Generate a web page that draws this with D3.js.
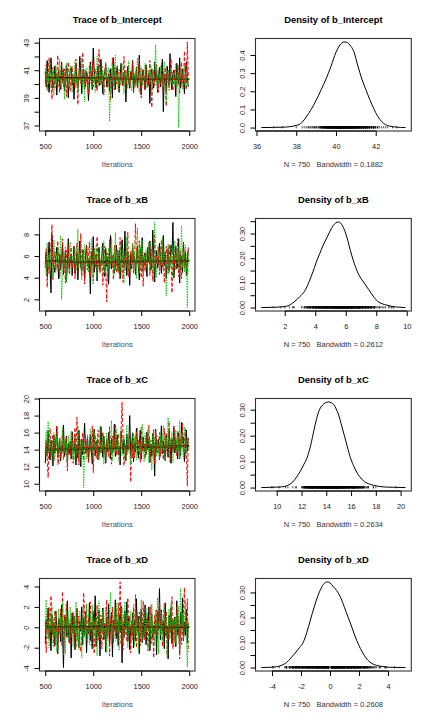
<!DOCTYPE html>
<html><head><meta charset="utf-8">
<script src="https://cdn.jsdelivr.net/npm/d3@7"></script>
<style>body{margin:0;background:#fff}svg{display:block}</style>
</head><body>
<script>
// ---------------- DATA ----------------
const iterStart = 500, iterEnd = 2000, thin = 10;
const paramNames = ["b_Intercept", "b_xB", "b_xC", "b_xD"];
const nObs = 750;
const bandwidths = ["0.1882", "0.2612", "0.2634", "0.2608"];

const intercept_chain1 = [40.9,39.8,41.7,40.3,39.4,40.8,41.9,40.5,39.7,40.1,41.3,40.6,39.2,40.4,41.0,
40.0,39.6,41.6,40.2,41.1,39.5,40.3,41.4,40.7,39.0,40.5,40.9,41.2,39.9,40.4,
38.9,40.7,41.5,40.1,39.7,40.3,42.0,40.8,39.3,40.6,41.1,40.2,39.8,40.9,40.4,
38.8,40.0,41.6,40.5,39.6,42.6,41.0,40.3,39.7,40.7,41.3,39.9,40.1,41.8,40.4,
39.3,40.6,40.9,41.4,39.8,40.2,40.7,39.5,41.1,40.3,39.0,41.9,40.5,39.6,40.8,
41.2,40.0,39.4,40.6,41.5,40.1,39.9,40.8,41.0,38.7,40.4,41.3,40.2,39.7,40.9,
40.3,41.7,39.5,40.5,40.0,41.2,39.8,40.6,42.1,40.1,39.2,40.7,41.0,40.4,39.6,
41.4,40.2,39.9,40.8,38.6,40.5,41.1,40.0,39.7,41.6,40.3,40.9,39.4,40.6,41.2,
39.8,40.4,41.8,38.0,40.7,40.1,39.5,41.3,40.5,39.9,42.2,40.2,39.6,40.8,41.0,
40.3,39.1,41.5,40.6,40.0,41.9,39.7,40.4,41.1,40.2,39.3,40.9,41.6,40.5,39.8];
const intercept_chain2 = [40.1,41.4,39.6,40.7,41.9,39.9,40.4,38.9,41.2,40.5,39.7,41.0,40.3,42.1,40.0,
39.4,40.8,41.5,40.2,39.8,41.1,40.6,39.1,40.9,41.6,40.3,39.5,40.7,41.3,40.0,
40.5,39.7,41.8,40.4,38.5,40.9,41.2,40.1,39.9,42.3,40.6,39.6,41.0,40.2,40.8,
39.3,41.4,40.5,40.0,41.7,39.8,40.3,41.1,40.7,39.5,40.9,42.5,40.2,39.9,41.3,
40.6,39.2,40.4,41.5,40.1,39.7,40.8,41.0,38.8,40.3,41.9,40.5,39.6,41.2,40.0,
41.4,40.7,39.4,40.2,41.1,40.6,39.9,42.0,40.3,39.5,40.8,41.3,40.1,39.8,40.9,
40.4,41.6,39.3,40.7,40.0,41.2,39.7,40.5,41.8,40.2,39.0,40.9,41.1,40.4,39.6,
41.3,40.1,39.8,40.6,41.7,40.3,38.3,40.8,41.0,39.9,40.5,41.4,40.2,39.4,40.7,
40.0,41.5,39.6,40.9,40.3,41.2,38.4,40.6,41.0,39.7,40.4,41.8,40.1,39.5,40.8,
41.1,40.2,39.9,41.4,40.5,39.3,40.7,41.6,40.0,39.8,42.4,40.3,39.6,43.05,40.6];
const intercept_chain3 = [40.3,41.2,39.5,40.8,40.0,41.6,39.7,40.5,41.0,39.2,40.7,41.4,40.1,39.9,40.6,
41.8,40.2,39.6,40.9,41.1,38.9,40.4,41.5,40.0,39.8,40.7,41.3,40.3,39.4,40.8,
40.1,41.7,39.9,40.6,39.3,41.0,40.5,40.2,41.9,39.7,40.4,38.7,40.9,41.2,40.0,
39.6,40.8,41.4,40.3,39.8,41.1,40.6,39.4,40.2,42.0,40.7,39.9,41.3,40.1,40.5,
41.0,39.5,40.4,41.6,40.3,40.9,41.2,37.3,39.7,40.6,41.4,40.0,39.8,42.1,40.4,
40.7,39.6,41.1,40.2,39.9,41.5,40.5,39.3,40.8,41.0,40.1,39.7,41.7,40.4,40.0,
39.5,40.9,41.3,40.3,39.8,40.6,41.9,40.0,39.4,40.7,41.2,40.2,39.9,40.8,41.5,
40.4,39.7,41.0,40.6,40.1,41.4,39.2,40.5,40.9,41.1,42.85,40.3,39.6,40.7,40.0,
41.3,40.2,39.8,40.9,41.6,40.4,38.6,40.1,41.0,39.5,40.7,41.2,40.3,39.9,40.6,
40.0,41.5,39.7,40.8,36.85,40.4,41.1,40.2,39.6,40.9,41.3,40.5,39.8,40.6,40.2];

const xB_chain1 = [5.2,6.4,4.1,5.8,7.3,4.9,2.6,8.0,6.1,5.0,4.5,5.9,6.8,5.3,3.9,
6.2,4.7,5.6,7.1,4.3,5.4,6.5,3.6,5.1,7.6,4.8,5.7,6.0,4.2,5.5,
6.9,4.4,5.3,6.3,3.8,5.9,7.4,5.0,4.6,6.6,5.2,4.0,6.1,7.0,5.6,
4.9,5.7,2.5,6.4,5.3,7.8,4.5,5.8,6.2,3.7,5.4,6.8,4.7,5.1,6.0,
7.2,5.5,4.1,6.7,5.0,5.9,3.4,6.3,7.9,4.8,5.6,6.1,4.4,5.2,7.0,
5.8,4.6,6.5,3.9,5.3,7.5,6.0,4.9,8.3,5.5,4.2,6.4,5.7,3.3,6.2,
4.8,7.1,5.4,6.0,4.3,5.8,6.9,5.1,3.8,6.6,5.5,7.7,4.6,5.9,6.3,
5.0,4.1,6.8,5.6,7.4,4.7,5.3,8.4,6.1,3.6,5.7,6.5,4.9,5.4,7.2,
6.0,4.4,5.8,7.9,5.1,6.3,3.9,5.5,6.7,4.6,5.2,7.0,6.2,9.1,4.0,
5.6,6.9,4.8,5.3,7.6,3.5,6.1,5.9,4.5,7.3,5.0,6.4,4.2,5.7,6.6];
const xB_chain2 = [4.9,6.7,3.1,5.4,4.4,6.1,7.0,8.9,3.8,5.6,6.4,4.7,5.1,7.4,5.8,
4.0,6.2,5.3,7.6,4.6,5.9,3.5,6.5,5.0,7.1,4.3,5.7,6.8,4.8,5.5,
6.3,3.9,5.2,7.2,4.5,6.0,5.6,8.1,4.1,5.8,6.6,3.4,5.4,6.9,4.7,
5.9,7.3,4.2,5.1,6.4,3.7,6.7,5.5,4.8,7.8,5.0,6.1,4.4,5.7,6.2,
3.3,5.8,6.9,4.6,1.75,6.3,5.2,7.5,4.9,5.6,6.0,3.8,7.0,5.3,4.5,
6.6,5.0,4.3,7.7,5.5,6.2,3.6,5.9,4.7,6.8,5.4,8.2,4.1,5.7,6.4,
5.1,7.0,4.4,6.1,9.0,5.6,6.5,4.9,7.4,5.3,4.0,6.7,3.2,5.8,4.6,
6.3,4.8,5.5,7.2,4.2,5.9,6.6,3.7,5.2,7.9,4.6,6.0,5.4,6.8,4.3,
5.7,7.5,4.9,6.2,3.5,5.0,6.9,5.6,4.4,7.1,5.3,6.4,2.6,5.8,6.7,
4.7,6.1,5.4,7.6,4.1,5.9,6.5,3.9,5.2,7.3,4.8,6.0,5.5,4.3,6.8];
const xB_chain3 = [5.6,4.3,7.2,5.0,6.3,4.7,6.8,5.3,3.9,7.5,5.8,4.5,6.1,5.2,6.6,
4.8,7.9,2.0,4.1,6.4,5.1,6.9,3.6,5.7,5.5,6.2,7.3,4.4,5.9,6.0,
5.4,6.7,4.6,5.9,8.5,4.9,6.2,5.3,3.8,6.5,5.0,7.1,4.2,5.7,6.3,
4.5,6.0,5.2,7.6,4.8,3.4,6.6,5.5,7.0,4.0,5.8,6.4,5.1,4.7,6.9,
5.3,7.4,4.4,6.1,5.6,3.7,6.8,5.0,4.9,7.7,5.4,6.2,4.3,8.2,5.7,
6.5,4.6,5.9,7.1,4.1,5.2,6.7,3.5,6.0,5.5,7.8,4.8,6.3,5.1,4.5,
5.8,7.2,4.7,6.4,5.3,3.9,8.6,5.6,4.4,6.9,5.0,7.5,4.2,6.1,5.4,
6.6,4.9,5.7,7.3,4.5,5.9,6.2,5.1,3.6,9.15,5.5,4.0,7.0,6.8,4.8,
6.3,5.2,7.7,4.6,5.8,6.5,2.3,5.5,7.1,4.4,6.0,5.0,6.9,4.1,5.6,
7.4,4.7,6.1,5.3,6.8,4.2,5.7,8.8,5.0,6.4,4.5,7.0,5.8,1.24,6.2];

const xC_chain1 = [12.4,14.8,13.3,16.2,13.9,12.8,15.1,14.3,12.1,15.7,13.6,14.9,16.6,13.1,14.0,
15.3,12.7,14.5,13.8,16.9,13.2,14.1,15.6,12.5,14.7,13.5,15.0,12.9,16.1,14.4,
13.7,15.4,12.2,14.6,13.0,16.3,14.2,12.0,15.2,13.4,14.8,17.1,13.6,14.0,15.5,
12.6,14.3,15.8,13.9,12.3,14.9,16.4,13.3,14.6,15.1,12.8,14.2,13.7,16.7,14.5,
13.1,15.6,14.0,12.4,15.0,13.8,16.0,14.7,12.9,15.3,13.5,14.1,17.0,13.2,14.8,
15.7,13.4,14.4,12.2,16.2,14.9,13.6,15.2,14.0,12.7,15.8,13.9,14.6,18.0,13.3,
14.2,15.9,12.6,14.8,13.7,16.5,15.1,13.0,14.5,16.3,12.9,14.3,15.5,13.8,14.7,
13.4,16.1,14.0,15.4,12.5,14.6,13.2,15.9,14.3,10.9,16.4,13.7,14.9,15.2,12.8,
14.6,16.8,13.5,15.0,14.1,12.7,15.7,14.4,13.1,16.2,14.8,12.4,15.3,13.9,16.6,
13.6,15.1,14.5,12.9,16.0,14.2,13.3,17.2,14.7,15.5,12.6,14.0,16.3,13.8,15.4];
const xC_chain2 = [13.5,15.2,12.9,10.7,14.6,16.5,13.2,14.1,15.8,12.6,14.8,13.7,16.9,14.0,12.3,
15.4,13.0,14.4,16.2,12.8,14.9,13.6,15.5,11.5,14.2,13.9,13.3,14.7,15.9,12.4,
14.0,16.6,13.1,17.8,14.5,12.2,15.3,13.8,14.9,16.0,12.7,14.3,15.6,13.4,14.8,
12.5,15.0,14.2,13.6,16.8,11.3,14.6,15.7,13.0,14.4,16.3,12.9,15.1,13.7,14.1,
16.1,13.5,14.8,12.6,15.4,14.0,13.2,16.7,14.5,12.3,15.6,13.9,14.2,17.0,13.3,
14.7,15.9,12.8,14.3,16.4,19.6,15.1,12.1,13.6,14.6,13.4,15.5,14.0,16.2,10.2,
14.9,13.0,15.8,13.1,14.4,16.1,13.5,15.2,14.1,12.5,16.6,13.8,15.0,14.7,12.9,
15.5,13.9,14.6,16.9,12.7,15.1,14.3,13.4,16.4,12.3,14.8,15.7,13.6,14.2,16.0,
13.2,15.3,14.7,12.8,16.5,14.0,15.9,13.5,14.9,17.3,12.6,15.2,14.4,13.7,16.8,
14.1,15.6,13.3,16.2,14.8,12.9,15.4,14.5,17.1,13.6,15.0,16.4,13.8,9.7,15.2];
const xC_chain3 = [13.8,16.3,12.9,17.3,14.2,13.5,15.0,12.6,14.7,16.0,13.1,14.4,15.6,12.2,14.9,
15.3,13.7,14.1,16.6,12.8,15.2,13.4,14.8,12.5,15.7,13.9,14.3,16.2,13.0,14.6,
12.7,15.5,14.0,13.3,16.8,14.5,12.4,15.1,13.8,14.9,9.55,13.2,14.6,12.9,15.8,
14.3,13.6,16.4,15.4,14.0,12.6,16.1,13.9,14.7,15.3,12.8,14.4,16.7,13.5,14.1,
15.6,12.3,14.8,13.4,16.0,14.2,15.1,13.0,14.5,17.4,12.7,15.2,14.0,13.7,16.5,
13.9,15.0,12.5,14.6,16.3,13.3,14.9,15.7,12.9,14.1,16.9,13.6,15.4,14.3,12.2,
14.8,16.1,13.1,15.5,14.4,12.8,16.6,13.8,15.0,14.2,13.4,17.0,14.7,12.6,15.9,
13.5,14.9,16.4,12.4,15.3,14.0,11.6,15.8,13.9,14.6,16.2,13.2,15.1,14.5,12.9,
15.7,13.6,14.3,16.8,14.9,12.7,15.4,14.1,17.8,13.3,15.0,14.6,16.1,12.5,15.2,
14.4,16.3,13.7,15.6,14.0,17.4,13.1,15.9,14.8,12.9,16.7,14.2,13.5,15.3,14.6];

const xD_chain1 = [-1.6,0.8,-0.3,1.9,-1.1,0.2,-2.3,1.2,-0.7,0.5,-1.8,1.6,-0.1,-2.6,0.9,
0.3,-1.4,2.2,-0.5,-3.95,0.7,1.0,-0.9,2.6,-0.2,-1.5,0.4,-3.0,1.4,-0.6,
1.1,-2.2,0.0,1.8,-1.0,-2.0,0.6,-0.4,2.0,-1.7,0.9,-0.8,1.5,-2.5,0.1,
-0.6,2.4,-1.3,0.5,-2.1,1.3,-0.2,3.1,-1.9,0.2,-0.9,1.7,-2.8,0.8,-0.4,
1.9,-1.2,0.4,-2.4,1.0,-0.7,2.3,-1.6,0.0,1.5,-2.9,0.7,-0.3,2.7,-1.1,
0.6,-1.8,1.2,-0.5,2.1,-3.5,0.3,-1.0,1.6,-0.2,2.5,-1.4,0.9,-2.2,0.1,
-0.8,1.4,-2.0,0.7,-1.3,2.8,-0.4,1.1,-2.6,0.3,1.8,-1.5,0.5,-0.9,2.2,
-1.7,0.9,-0.1,2.0,-2.3,0.4,1.3,-1.0,0.2,-0.6,0.8,-2.7,1.6,-0.3,3.8,
-1.2,1.7,-0.4,0.6,-2.1,2.4,-0.9,0.1,-3.1,1.2,-0.5,1.9,-1.6,0.7,-0.2,
1.0,-1.9,2.6,-0.7,0.3,-2.4,1.5,-0.1,2.9,-1.3,0.5,-0.8,1.8,-1.5,0.4];
const xD_chain2 = [0.5,-2.5,1.3,-0.6,2.0,-1.2,3.1,-0.3,0.8,-1.9,1.6,-0.9,0.2,-2.2,1.0,
-0.4,1.8,-1.5,3.5,-2.7,1.2,-0.1,2.3,-1.0,0.4,0.6,-1.7,0.9,-0.5,1.5,
-1.3,0.7,-2.0,1.9,-0.2,1.1,-1.6,-2.4,-0.7,0.3,3.4,1.4,-0.4,2.1,-1.1,
0.9,-0.8,2.5,-1.8,0.1,1.7,-2.6,0.6,-0.3,2.2,-1.4,0.4,-0.9,1.2,-2.1,
1.5,-0.5,0.3,-1.9,2.7,-1.1,0.8,-2.8,1.0,-0.2,2.0,-1.5,0.5,-0.8,1.8,
-1.0,2.4,-0.3,4.45,-1.7,0.9,-2.2,1.3,-0.6,0.2,-1.4,2.9,-0.1,1.1,-2.5,
0.6,-1.2,1.9,-0.7,3.2,-2.0,0.4,-0.4,1.5,-1.8,0.9,-0.2,2.6,-1.3,0.1,
-0.9,1.4,-2.3,0.7,-0.1,2.1,-1.6,0.5,-3.0,1.2,-0.6,1.7,-1.1,0.3,2.4,
-0.3,1.0,-1.9,0.4,2.3,-0.8,1.6,-2.7,0.2,-1.2,1.3,-0.5,3.0,-2.1,0.8,
-1.4,0.6,2.0,-0.9,1.1,-3.1,0.3,-1.7,-0.4,1.7,3.9,0.5,-0.1,2.8,-2.4];
const xD_chain3 = [0.2,2.7,-1.1,0.8,-2.0,1.5,-0.4,2.1,-1.6,0.5,-0.9,1.3,-2.4,0.1,1.8,
-0.7,1.0,-1.8,2.4,-0.2,0.6,-2.6,1.7,-0.5,0.9,-1.3,2.0,-0.8,0.3,-1.9,
1.2,-0.6,2.5,-1.4,0.4,-2.2,1.6,-0.1,-3.0,0.7,1.9,-1.0,0.2,2.3,-1.5,
0.5,-1.7,1.4,-0.3,2.2,-2.1,0.8,-0.9,1.1,-2.8,0.1,2.6,-1.2,0.6,-0.4,
1.7,-1.0,0.3,2.0,-2.5,0.9,-0.6,1.3,3.4,-1.6,0.4,-0.2,1.8,-1.3,2.4,
-0.5,1.1,-2.3,0.7,-0.1,1.9,-1.5,0.2,2.5,-0.8,1.4,-2.0,0.6,-0.3,1.6,
-1.1,0.8,2.2,-1.8,0.4,-0.7,1.5,-2.4,0.9,-0.2,2.7,-1.3,0.3,1.2,-0.9,
1.9,-0.4,0.6,-2.2,1.3,-1.0,2.3,-0.6,0.1,-1.7,1.7,-0.3,2.9,-2.6,0.5,
-0.8,1.5,-1.4,0.7,2.0,-0.5,1.0,-3.0,0.4,1.8,-1.1,2.4,-0.2,0.8,-1.9,
0.9,-1.6,1.2,-0.1,2.1,-2.3,3.8,-0.7,1.4,-1.2,0.3,2.5,-0.9,-3.9,0.6];

// smooth (lowess) trend lines per chain, at these iterations
const smoothIters = [500, 1000, 1500, 2000];
const intercept_smooth = [[40.48,40.42,40.38,40.35],[40.45,40.40,40.38,40.33],[40.40,40.38,40.40,40.37]];
const xB_smooth = [[5.55,5.45,5.50,5.55],[5.50,5.40,5.45,5.50],[5.55,5.45,5.50,5.60]];
const xC_smooth = [[14.00,14.15,14.30,14.40],[14.05,14.20,14.30,14.40],[14.00,14.15,14.30,14.35]];
const xD_smooth = [[0.00,0.05,0.05,0.00],[-0.05,0.00,0.05,0.05],[0.00,0.00,0.05,0.05]];

// density curves (x, y)
const intercept_densX = [36.24,36.8,37.3,37.7,38.0,38.2,38.5,38.75,39.0,39.25,39.5,39.75,40.0,40.2,40.4,40.55,40.7,40.9,41.1,41.3,41.5,41.7,41.9,42.1,42.3,42.5,42.7,43.0,43.5];
const intercept_densY = [0.000,0.001,0.002,0.005,0.012,0.020,0.058,0.100,0.150,0.208,0.268,0.338,0.415,0.455,0.472,0.470,0.455,0.418,0.340,0.268,0.210,0.155,0.105,0.062,0.033,0.016,0.008,0.003,0.000];
const xB_densX = [0.46,1.2,1.8,2.2,2.6,3.0,3.3,3.6,3.85,4.05,4.3,4.5,4.75,4.95,5.15,5.35,5.5,5.65,5.8,6.0,6.15,6.3,6.5,6.8,7.0,7.25,7.5,7.7,7.9,8.1,8.4,8.7,9.0,9.4,9.92];
const xB_densY = [0.000,0.001,0.003,0.007,0.022,0.045,0.066,0.105,0.145,0.181,0.220,0.250,0.282,0.307,0.330,0.343,0.347,0.343,0.330,0.300,0.268,0.232,0.190,0.140,0.118,0.096,0.073,0.055,0.038,0.025,0.015,0.010,0.005,0.002,0.000];
const xC_densX = [8.75,9.5,10.2,10.7,11.0,11.3,11.6,11.9,12.2,12.5,12.75,13.0,13.2,13.45,13.7,13.95,14.2,14.4,14.6,14.8,15.0,15.2,15.45,15.7,15.95,16.2,16.45,16.7,17.0,17.4,17.8,18.2,18.8,19.5,20.4];
const xC_densY = [0.000,0.001,0.002,0.005,0.011,0.022,0.040,0.063,0.090,0.122,0.165,0.220,0.262,0.300,0.318,0.327,0.330,0.327,0.320,0.303,0.280,0.246,0.202,0.157,0.115,0.085,0.060,0.042,0.026,0.015,0.009,0.005,0.002,0.001,0.000];
const xD_densX = [-4.74,-4.2,-3.7,-3.3,-3.0,-2.7,-2.4,-2.1,-1.85,-1.6,-1.35,-1.1,-0.85,-0.6,-0.4,-0.2,0.0,0.2,0.45,0.65,0.9,1.1,1.35,1.6,1.85,2.1,2.35,2.6,2.9,3.2,3.6,4.2,5.21];
const xD_densY = [0.000,0.001,0.003,0.010,0.020,0.038,0.058,0.080,0.100,0.140,0.190,0.240,0.284,0.318,0.336,0.342,0.338,0.325,0.308,0.290,0.256,0.224,0.186,0.146,0.107,0.076,0.050,0.030,0.016,0.009,0.004,0.001,0.000];

// tick values and labels
const traceXTicks = [500, 1000, 1500, 2000];
const traceXLabels = ["500", "1000", "1500", "2000"];
const intercept_traceYTicks = [37,38,39,40,41,42,43];
const intercept_traceYLabels = ["37","","39","","41","","43"];
const xB_traceYTicks = [2,4,6,8];
const xB_traceYLabels = ["2","4","6","8"];
const xC_traceYTicks = [10,12,14,16,18,20];
const xC_traceYLabels = ["10","12","14","16","18","20"];
const xD_traceYTicks = [-4,-2,0,2,4];
const xD_traceYLabels = ["-4","-2","0","2","4"];
const intercept_densXTicks = [36,38,40,42];
const intercept_densXLabels = ["36","38","40","42"];
const xB_densXTicks = [2,4,6,8,10];
const xB_densXLabels = ["2","4","6","8","10"];
const xC_densXTicks = [10,12,14,16,18,20];
const xC_densXLabels = ["10","12","14","16","18","20"];
const xD_densXTicks = [-4,-2,0,2,4];
const xD_densXLabels = ["-4","-2","0","2","4"];
const intercept_densYTicks = [0,0.1,0.2,0.3,0.4];
const intercept_densYLabels = ["0.0","0.1","0.2","0.3","0.4"];
const other_densYTicks = [0,0.05,0.10,0.15,0.20,0.25,0.30,0.35];
const other_densYLabels = ["0.00","","0.10","","0.20","","0.30",""];

// ---------------- DRAWING ----------------
const panels = [
  {chains:[intercept_chain1,intercept_chain2,intercept_chain3], smooth:intercept_smooth, yT:intercept_traceYTicks, yL:intercept_traceYLabels,
   dx:intercept_densX, dy:intercept_densY, dxT:intercept_densXTicks, dxL:intercept_densXLabels, dyT:intercept_densYTicks, dyL:intercept_densYLabels},
  {chains:[xB_chain1,xB_chain2,xB_chain3], smooth:xB_smooth, yT:xB_traceYTicks, yL:xB_traceYLabels,
   dx:xB_densX, dy:xB_densY, dxT:xB_densXTicks, dxL:xB_densXLabels, dyT:other_densYTicks.slice(0,8), dyL:other_densYLabels},
  {chains:[xC_chain1,xC_chain2,xC_chain3], smooth:xC_smooth, yT:xC_traceYTicks, yL:xC_traceYLabels,
   dx:xC_densX, dy:xC_densY, dxT:xC_densXTicks, dxL:xC_densXLabels, dyT:other_densYTicks.slice(0,7), dyL:other_densYLabels.slice(0,7)},
  {chains:[xD_chain1,xD_chain2,xD_chain3], smooth:xD_smooth, yT:xD_traceYTicks, yL:xD_traceYLabels,
   dx:xD_densX, dy:xD_densY, dxT:xD_densXTicks, dxL:xD_densXLabels, dyT:other_densYTicks.slice(0,7), dyL:other_densYLabels.slice(0,7)}
];

const FONT = "'Liberation Sans', Arial, Helvetica, sans-serif";
const svg = d3.select("body").append("svg").attr("width", 432).attr("height", 720)
  .style("font-family", FONT);
svg.append("rect").attr("width", 432).attr("height", 720).attr("fill", "#fff");

const chainColors = ["#000000", "#FF0000", "#00CD00"];
const chainDash = [null, "3.5,2", "1.4,1.2"];
const pad = ([a, b]) => { const d = (b - a) * 0.04; return [a - d, b + d]; };
const COLS = [[39.5, 195], [255.5, 411.3]];
const TICK_FS = "7.4px";

function bottomAxis(scale, ticks, labels, y0) {
  const ax = d3.axisBottom(scale).tickValues(ticks).tickSize(5).tickSizeOuter(0)
    .tickFormat((d, i) => labels[i]);
  const g = svg.append("g").attr("transform", `translate(0,${y0})`).call(ax)
    .attr("font-family", null).attr("font-size", null);
  g.select(".domain").remove();
  g.append("line").attr("x1", scale(ticks[0])).attr("x2", scale(ticks[ticks.length - 1]))
    .attr("stroke", "#000").attr("stroke-width", 1);
  g.selectAll(".tick line").attr("stroke", "#000");
  g.selectAll(".tick text").attr("y", 17.6).attr("dy", 0).attr("fill", "#222")
    .style("font-size", TICK_FS);
}
function leftAxis(scale, ticks, labels, x0) {
  const ax = d3.axisLeft(scale).tickValues(ticks).tickSize(5).tickSizeOuter(0)
    .tickFormat((d, i) => labels[i]);
  const g = svg.append("g").attr("transform", `translate(${x0},0)`).call(ax)
    .attr("font-family", null).attr("font-size", null);
  g.select(".domain").remove();
  g.append("line").attr("y1", scale(ticks[0])).attr("y2", scale(ticks[ticks.length - 1]))
    .attr("stroke", "#000").attr("stroke-width", 1);
  g.selectAll(".tick line").attr("stroke", "#000");
  g.selectAll(".tick text").attr("x", 0).attr("y", -10.1).attr("dy", 0)
    .attr("transform", "rotate(-90)").attr("text-anchor", "middle").attr("fill", "#222")
    .style("font-size", TICK_FS);
}
function box(L, R, T, B) {
  svg.append("rect").attr("x", L).attr("y", T).attr("width", R - L).attr("height", B - T)
    .attr("fill", "none").attr("stroke", "#333").attr("stroke-width", 1.1);
}
function title(text, cx, y) {
  svg.append("text").attr("x", cx).attr("y", y).attr("text-anchor", "middle")
    .style("font-size", "9.4px").style("font-weight", "bold").attr("fill", "#000").text(text);
}

panels.forEach((p, r) => {
  const T = 38.5 + 180 * r, B = 131 + 180 * r;
  const name = paramNames[r];

  // ---------- trace ----------
  {
    const [L, R] = COLS[0];
    const x = d3.scaleLinear().domain(pad([iterStart, iterEnd])).range([L, R]);
    const y = d3.scaleLinear().domain(pad(d3.extent(p.chains.flat()))).range([B, T]);
    const line = d3.line().x((d, i) => x(iterStart + i * thin)).y(d => y(d));
    p.chains.forEach((c, k) => {
      svg.append("path").datum(c).attr("d", line).attr("fill", "none")
        .attr("stroke", chainColors[k]).attr("stroke-width", 1.0)
        .attr("stroke-dasharray", chainDash[k]);
    });
    const sline = d3.line().x((d, i) => x(smoothIters[i])).y(d => y(d)).curve(d3.curveMonotoneX);
    p.smooth.forEach((s, k) => {
      svg.append("path").datum(s).attr("d", sline).attr("fill", "none")
        .attr("stroke", k === 2 ? "#00A000" : chainColors[k]).attr("stroke-width", 1.6)
        .attr("stroke-dasharray", chainDash[k]);
    });
    box(L, R, T, B);
    bottomAxis(x, traceXTicks, traceXLabels, B);
    leftAxis(y, p.yT, p.yL, L);
    title("Trace of " + name, (L + R) / 2, T - 15.8);
    svg.append("text").attr("x", (L + R) / 2).attr("y", B + 36.3).attr("text-anchor", "middle")
      .style("font-size", "7.5px").attr("fill", "#3b4a6e").text("Iterations");
  }

  // ---------- density ----------
  {
    const [L, R] = COLS[1];
    const x = d3.scaleLinear().domain(pad(d3.extent(p.dx))).range([L, R]);
    const y = d3.scaleLinear().domain(pad([0, d3.max(p.dy)])).range([B, T]);
    const pts = p.dx.map((v, i) => [v, p.dy[i]]);
    // rug of observations (all chains)
    const obs = p.chains.flat();
    svg.append("g").selectAll("line").data(obs).join("line")
      .attr("x1", d => x(d)).attr("x2", d => x(d))
      .attr("y1", y(0) + 0.8).attr("y2", y(0) - 1.4)
      .attr("stroke", "#000").attr("stroke-width", 0.7);
    svg.append("path").datum(pts)
      .attr("d", d3.line().x(d => x(d[0])).y(d => y(d[1])).curve(d3.curveMonotoneX))
      .attr("fill", "none").attr("stroke", "#000").attr("stroke-width", 1);
    box(L, R, T, B);
    bottomAxis(x, p.dxT, p.dxL, B);
    leftAxis(y, p.dyT, p.dyL, L);
    title("Density of " + name, (L + R) / 2, T - 15.8);
    svg.append("text").attr("x", (L + R) / 2).attr("y", B + 36.3).attr("text-anchor", "middle")
      .style("font-size", "7.5px").style("white-space", "pre").attr("fill", "#333")
      .text(`N = ${nObs}   Bandwidth = ${bandwidths[r]}`);
  }
});
</script>
</body></html>
